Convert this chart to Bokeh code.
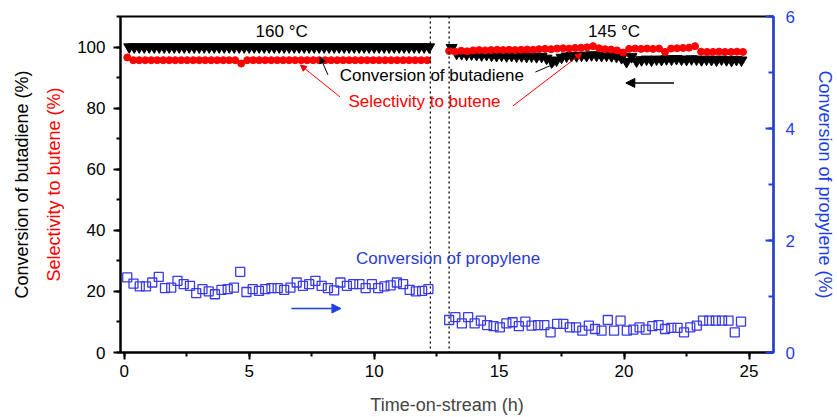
from bokeh.plotting import figure
from bokeh.models import (Range1d, LinearAxis, SingleIntervalTicker, FixedTicker,
                          Span, Label, Arrow, NormalHead)
from bokeh.embed import file_html
from bokeh.resources import INLINE

# ---------------- data ----------------
# Conversion of butadiene (%), black inverted triangles
but_t1 = [0.2, 0.4, 0.6, 0.8, 1.0, 1.2, 1.4, 1.6, 1.8, 2.0, 2.2, 2.4, 2.6, 2.8, 3.0,
          3.2, 3.4, 3.6, 3.8, 4.0, 4.2, 4.4, 4.6, 4.8, 5.0, 5.2, 5.4, 5.6, 5.8, 6.0,
          6.2, 6.4, 6.6, 6.8, 7.0, 7.2, 7.4, 7.6, 7.8, 8.0, 8.2, 8.4, 8.6, 8.8, 9.0,
          9.2, 9.4, 9.6, 9.8, 10.0, 10.2, 10.4, 10.6, 10.8, 11.0, 11.2, 11.4, 11.6,
          11.8, 12.0, 12.2]
but_v1 = [100.0, 100.0, 100.0, 100.0, 100.0, 100.0, 100.0, 100.0, 100.0, 100.0,
          100.0, 100.0, 100.0, 100.0, 100.0, 100.0, 100.0, 100.0, 100.0, 100.0,
          100.0, 100.0, 100.0, 100.0, 100.0, 100.0, 100.0, 100.0, 100.0, 100.0,
          100.0, 100.0, 100.0, 100.0, 100.0, 100.0, 100.0, 100.0, 100.0, 100.0,
          100.0, 100.0, 100.0, 100.0, 100.0, 100.0, 100.0, 100.0, 100.0, 100.0,
          100.0, 100.0, 100.0, 100.0, 100.0, 100.0, 100.0, 100.0, 100.0, 100.0,
          100.0]
but_t2 = [13.1, 13.3, 13.5, 13.7, 13.9, 14.1, 14.3, 14.5, 14.7, 14.9, 15.1, 15.3,
          15.5, 15.7, 15.9, 16.1, 16.3, 16.5, 16.7, 16.9, 17.1, 17.3, 17.5, 17.7,
          17.9, 18.1, 18.3, 18.5, 18.7, 18.9, 19.1, 19.3, 19.5, 19.7, 19.9, 20.1,
          20.3, 20.5, 20.7, 20.9, 21.1, 21.3, 21.5, 21.7, 21.9, 22.1, 22.3, 22.5,
          22.7, 22.9, 23.1, 23.3, 23.5, 23.7, 23.9, 24.1, 24.3, 24.5, 24.7]
but_v2 = [99.8, 97.9, 97.8, 97.6, 97.7, 97.5, 97.4, 97.5, 97.3, 97.2, 97.3, 97.1,
          97.2, 97.0, 97.1, 96.9, 97.0, 96.8, 96.9, 96.3, 95.5, 95.7, 96.6, 97.0,
          97.2, 97.1, 97.3, 97.2, 97.4, 97.3, 97.2, 97.3, 97.1, 96.9, 96.5, 95.2,
          96.8, 95.4, 95.8, 96.0, 95.7, 96.0, 95.9, 96.1, 96.0, 96.2, 96.0, 95.9,
          96.1, 96.0, 95.8, 96.0, 95.9, 95.7, 96.0, 95.8, 95.6, 95.9, 95.7]

# Selectivity to butene (%), red dots
sel_t1 = [0.12, 0.36, 0.60, 0.84, 1.08, 1.32, 1.56, 1.80, 2.04, 2.28, 2.52, 2.76,
          3.00, 3.24, 3.48, 3.72, 3.96, 4.20, 4.44, 4.68, 4.92, 5.16, 5.40, 5.64,
          5.88, 6.12, 6.36, 6.60, 6.84, 7.08, 7.32, 7.56, 7.80, 8.04, 8.28, 8.52,
          8.76, 9.00, 9.24, 9.48, 9.72, 9.96, 10.20, 10.44, 10.68, 10.92, 11.16,
          11.40, 11.64, 11.88, 12.12]
sel_v1 = [96.6, 95.7, 95.7, 95.7, 95.7, 95.7, 95.7, 95.7, 95.7, 95.7, 95.7, 95.7,
          95.7, 95.7, 95.7, 95.7, 95.7, 95.7, 95.7, 94.6, 95.7, 95.7, 95.7, 95.7,
          95.7, 95.7, 95.7, 95.7, 95.7, 95.7, 95.7, 95.7, 95.7, 95.7, 95.7, 95.7,
          95.7, 95.7, 95.7, 95.7, 95.7, 95.7, 95.7, 95.7, 95.7, 95.7, 95.7, 95.7,
          95.7, 95.7, 95.7]
sel_t2 = [13.00, 13.24, 13.48, 13.72, 13.96, 14.20, 14.44, 14.68, 14.92, 15.16,
          15.40, 15.64, 15.88, 16.12, 16.36, 16.60, 16.84, 17.08, 17.32, 17.56,
          17.80, 18.04, 18.28, 18.52, 18.76, 19.00, 19.24, 19.48, 19.72, 19.96,
          20.20, 20.44, 20.68, 20.92, 21.16, 21.40, 21.64, 21.88, 22.12, 22.36,
          22.60, 22.84, 23.08, 23.32, 23.56, 23.80, 24.04, 24.28, 24.52, 24.76]
sel_v2 = [98.7, 98.5, 98.8, 98.6, 98.9, 99.0, 98.9, 99.0, 99.1, 99.0,
          99.1, 99.0, 99.1, 99.2, 99.1, 99.3, 99.4, 99.3, 99.5, 99.6,
          99.5, 99.7, 99.8, 99.9, 100.3, 99.6, 99.3, 99.2, 98.9, 98.2,
          99.4, 99.5, 99.4, 99.5, 99.4, 99.5, 98.4, 99.5, 99.6, 99.7,
          99.8, 100.3, 98.5, 98.4, 98.4, 98.5, 98.4, 98.4, 98.5, 98.4]

# Conversion of propylene (%), blue open squares (right axis)
pro_t1 = [0.12, 0.37, 0.62, 0.87, 1.12, 1.38, 1.63, 1.88, 2.13, 2.38, 2.63, 2.88,
          3.13, 3.38, 3.63, 3.89, 4.14, 4.39, 4.64, 4.89, 5.14, 5.39, 5.64, 5.89,
          6.14, 6.40, 6.65, 6.90, 7.15, 7.40, 7.65, 7.90, 8.15, 8.40, 8.65, 8.91,
          9.16, 9.41, 9.66, 9.91, 10.16, 10.41, 10.66, 10.91, 11.16, 11.42, 11.67,
          11.92, 12.17]
pro_v1 = [1.34, 1.23, 1.18, 1.18, 1.25, 1.35, 1.15, 1.16, 1.28, 1.22,
          1.19, 1.06, 1.13, 1.09, 1.04, 1.12, 1.13, 1.16, 1.44, 1.08,
          1.13, 1.10, 1.13, 1.15, 1.15, 1.12, 1.16, 1.25, 1.19, 1.22,
          1.28, 1.19, 1.15, 1.11, 1.25, 1.19, 1.22, 1.22, 1.15, 1.22,
          1.15, 1.18, 1.20, 1.25, 1.22, 1.12, 1.09, 1.10, 1.13]
pro_t2 = [13.00, 13.25, 13.51, 13.76, 14.02, 14.27, 14.52, 14.78, 15.03, 15.29,
          15.54, 15.79, 16.05, 16.30, 16.56, 16.81, 17.06, 17.32, 17.57, 17.83,
          18.08, 18.33, 18.59, 18.84, 19.10, 19.35, 19.60, 19.86, 20.11, 20.37,
          20.62, 20.87, 21.13, 21.38, 21.64, 21.89, 22.14, 22.40, 22.65, 22.91,
          23.16, 23.41, 23.67, 23.92, 24.18, 24.43, 24.68]
pro_v2 = [0.58, 0.63, 0.52, 0.63, 0.52, 0.57, 0.49, 0.47, 0.45, 0.52,
          0.54, 0.47, 0.55, 0.48, 0.49, 0.49, 0.36, 0.51, 0.51, 0.45,
          0.45, 0.39, 0.48, 0.42, 0.39, 0.58, 0.39, 0.57, 0.39, 0.41,
          0.45, 0.41, 0.47, 0.49, 0.42, 0.44, 0.44, 0.36, 0.45, 0.48,
          0.57, 0.57, 0.57, 0.57, 0.57, 0.36, 0.55]

switch_times = [12.25, 13.0]
x_ticks_interval = 5
left_ticks_interval = 20
right_ticks_interval = 2

FONT = "Liberation Sans"
BLUE = "#1f3fe6"
SQ_BLUE = "#3a3ae6"
TXT_BLUE = "#2a3ccc"
RED = "#ff0000"

p = figure(width=837, height=417, output_backend="svg", toolbar_location=None,
           x_range=Range1d(-0.15, 25.98), y_range=Range1d(0, 110),
           min_border_left=120, min_border_right=56, min_border_top=16,
           min_border_bottom=62, background_fill_color="white")
p.xgrid.visible = False
p.ygrid.visible = False
p.outline_line_color = "black"
p.outline_line_width = 2
p.extra_y_ranges = {"prop": Range1d(0, 6)}

def style_axis(ax, color):
    ax.axis_line_color = color
    ax.axis_line_width = 2
    ax.major_tick_line_color = color
    ax.minor_tick_line_color = color
    ax.major_tick_line_width = 2
    ax.minor_tick_line_width = 2
    ax.major_label_text_color = color
    ax.major_label_text_font = FONT
    ax.major_label_text_font_size = "17px"
    ax.axis_label_text_font = FONT
    ax.axis_label_text_font_size = "18px"
    ax.axis_label_text_font_style = "normal"

# bottom axis
xa = p.xaxis[0]
xa.ticker = SingleIntervalTicker(interval=x_ticks_interval, num_minor_ticks=2)
style_axis(xa, "black")
xa.major_tick_out = 7
xa.major_tick_in = 0
xa.minor_tick_out = 4
xa.minor_tick_in = 0
xa.major_label_standoff = 5
xa.axis_label = "Time-on-stream (h)"
xa.axis_label_standoff = 15

# left axis (ticks + red title)
ya = p.yaxis[0]
ya.ticker = SingleIntervalTicker(interval=left_ticks_interval, num_minor_ticks=2)
style_axis(ya, "black")
ya.major_tick_out = 7
ya.major_tick_in = 0
ya.minor_tick_out = 4
ya.minor_tick_in = 0
ya.major_label_standoff = 8
ya.axis_label = "Selectivity to butene (%)"
ya.axis_label_text_color = RED
ya.axis_label_standoff = 10

# outer left axis holding the black title
ya2 = LinearAxis(ticker=FixedTicker(ticks=[]))
ya2.axis_line_color = None
ya2.major_tick_line_color = None
ya2.minor_tick_line_color = None
ya2.major_tick_out = 0
ya2.minor_tick_out = 0
ya2.major_label_standoff = 0
ya2.axis_label = "Conversion of butadiene (%)"
ya2.axis_label_text_font = FONT
ya2.axis_label_text_font_size = "18px"
ya2.axis_label_text_font_style = "normal"
ya2.axis_label_text_color = "black"
ya2.axis_label_standoff = 10
p.add_layout(ya2, "left")

# right axis
ra = LinearAxis(y_range_name="prop",
                ticker=SingleIntervalTicker(interval=right_ticks_interval, num_minor_ticks=2))
style_axis(ra, BLUE)
ra.major_tick_in = 8
ra.major_tick_out = 0
ra.minor_tick_in = 5
ra.minor_tick_out = 0
ra.major_label_standoff = 12
ra.axis_label = "Conversion of propylene (%)"
ra.axis_label_text_color = BLUE
ra.axis_label_standoff = 17
p.add_layout(ra, "right")

# switch lines
for s in switch_times:
    p.add_layout(Span(location=s, dimension="height", line_color="black",
                      line_dash="2 3", line_width=1.3))

# data
p.scatter(but_t1, but_v1, marker="inverted_triangle", size=11,
          fill_color="black", line_color="black")
p.scatter(but_t2, but_v2, marker="inverted_triangle", size=11,
          fill_color="black", line_color="black")
p.scatter(sel_t1, sel_v1, marker="circle", size=7, fill_color=RED, line_color=RED)
p.scatter(sel_t2, sel_v2, marker="circle", size=7, fill_color=RED, line_color=RED)
p.scatter(pro_t1, pro_v1, y_range_name="prop", marker="square", size=9,
          fill_alpha=0, line_color=SQ_BLUE, line_width=1.3)
p.scatter(pro_t2, pro_v2, y_range_name="prop", marker="square", size=9,
          fill_alpha=0, line_color=SQ_BLUE, line_width=1.3)

# annotations
def lab(x, y, text, color="black", align="left"):
    p.add_layout(Label(x=x, y=y, text=text, text_font=FONT, text_font_size="17px",
                       text_color=color, text_align=align, text_baseline="middle"))

lab(6.3, 105.1, "160 °C", align="center")
lab(19.6, 105.1, "145 °C", align="center")
lab(8.62, 90.8, "Conversion of butadiene")
lab(8.97, 82.2, "Selectivity to butene", color=RED)
lab(9.27, 30.8, "Conversion of propylene", color=TXT_BLUE)

def arrow(x0, y0, x1, y1, color, size, width):
    p.add_layout(Arrow(end=NormalHead(size=size, fill_color=color, line_color=color),
                       x_start=x0, y_start=y0, x_end=x1, y_end=y1,
                       line_color=color, line_width=width))

arrow(8.15, 90.9, 7.84, 96.7, "black", 6, 1)
arrow(16.45, 91.8, 17.27, 94.7, "black", 6, 1)
arrow(8.63, 83.7, 7.05, 94.1, RED, 6, 1)
arrow(15.55, 80.7, 18.3, 97.9, RED, 6, 1)
arrow(22.0, 88.25, 20.07, 88.25, "black", 9, 1.5)
arrow(6.69, 14.4, 8.67, 14.4, BLUE, 9, 1.5)

open("out.html", "w").write(file_html(p, INLINE))
